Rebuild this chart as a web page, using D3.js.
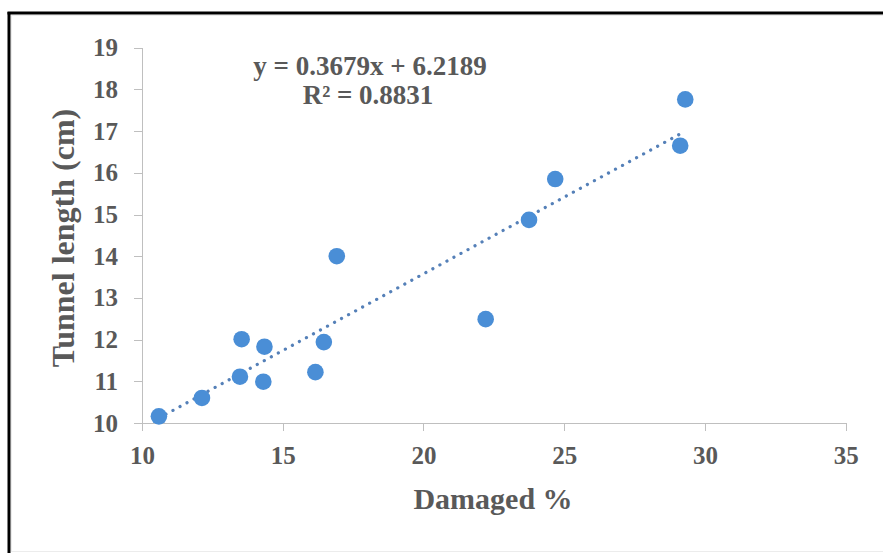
<!doctype html>
<html>
<head>
<meta charset="utf-8">
<title>Tunnel length vs damaged</title>
<script src="https://d3js.org/d3.v7.min.js"></script>
<style>
  body { margin: 0; background: #fff; }
  svg text { font-family: "Times New Roman", "Liberation Serif", serif; font-weight: bold; fill: #595959; }
  .axis path, .axis line { stroke: #bfbfbf; stroke-width: 1; shape-rendering: crispEdges; }
</style>
</head>
<body>
<script>
// data
var damaged = [10.6, 12.13, 13.48, 13.54, 14.31, 14.35, 16.16, 16.46, 16.92, 22.21, 23.75, 24.68, 29.12, 29.3];
var tunnel  = [10.16, 10.6, 11.11, 12.01, 10.99, 11.83, 11.22, 11.94, 14.0, 12.49, 14.87, 15.85, 16.65, 17.76];
var xTicks = [10, 15, 20, 25, 30, 35];
var yTicks = [10, 11, 12, 13, 14, 15, 16, 17, 18, 19];
var slope = 0.3679, intercept = 6.2189;
var eqText = "y = 0.3679x + 6.2189";
var r2Text = "0.8831";

var width = 883, height = 553;

var svg = d3.select("body").append("svg")
    .attr("width", width)
    .attr("height", height);

svg.append("rect").attr("width", width).attr("height", height).attr("fill", "#fff");

// faint inner border + black frame lines (left and top only)
svg.append("rect")
    .attr("x", 11.5).attr("y", 15.5)
    .attr("width", width - 11).attr("height", height - 17)
    .attr("fill", "none").attr("stroke", "#ececec");
svg.append("line").attr("x1", 9).attr("x2", 9).attr("y1", 12).attr("y2", height)
    .attr("stroke", "#000").attr("stroke-width", 3);
svg.append("line").attr("x1", 7.5).attr("x2", width).attr("y1", 13).attr("y2", 13)
    .attr("stroke", "#000").attr("stroke-width", 3);

var x = d3.scaleLinear().domain([10, 35]).range([142, 845.7]);
var y = d3.scaleLinear().domain([10, 19]).range([423, 47.7]);

// axes
var gx = svg.append("g")
    .attr("class", "axis")
    .attr("transform", "translate(0," + y(10) + ")")
    .call(d3.axisBottom(x).tickValues(xTicks).tickSize(8).tickSizeOuter(0).tickPadding(15));
gx.selectAll("text").style("font-size", "25px").attr("fill", "#595959");

var gy = svg.append("g")
    .attr("class", "axis")
    .attr("transform", "translate(" + x(10) + ",0)")
    .call(d3.axisLeft(y).tickValues(yTicks).tickSize(8).tickSizeOuter(0).tickPadding(16));
gy.selectAll("text").style("font-size", "25px").attr("fill", "#595959");

// trendline
var x0 = d3.min(damaged), x1 = d3.max(damaged);
svg.append("line")
    .attr("x1", x(x0)).attr("y1", y(slope * x0 + intercept))
    .attr("x2", x(x1)).attr("y2", y(slope * x1 + intercept))
    .attr("stroke", "#5580b8")
    .attr("stroke-width", 3.2)
    .attr("stroke-linecap", "round")
    .attr("stroke-dasharray", "0.1 7.9");

// points
svg.selectAll(".dot")
    .data(damaged)
    .enter().append("circle")
    .attr("class", "dot")
    .attr("cx", function(d) { return x(d); })
    .attr("cy", function(d, i) { return y(tunnel[i]); })
    .attr("r", 8.3)
    .attr("fill", "#4a8ed6");

// equation
svg.append("text")
    .attr("x", 370).attr("y", 75)
    .attr("text-anchor", "middle")
    .style("font-size", "27px")
    .text(eqText);
var r2 = svg.append("text")
    .attr("x", 368).attr("y", 104)
    .attr("text-anchor", "middle")
    .style("font-size", "27px");
r2.append("tspan").text("R");
r2.append("tspan").text("\u00b2");
r2.append("tspan").text(" = " + r2Text);

// axis titles
svg.append("text")
    .attr("x", 493).attr("y", 509)
    .attr("text-anchor", "middle")
    .style("font-size", "30px")
    .text("Damaged %");

svg.append("text")
    .attr("transform", "translate(74," + 238 + ") rotate(-90)")
    .attr("text-anchor", "middle")
    .style("font-size", "32px")
    .text("Tunnel length (cm)");
</script>
</body>
</html>
